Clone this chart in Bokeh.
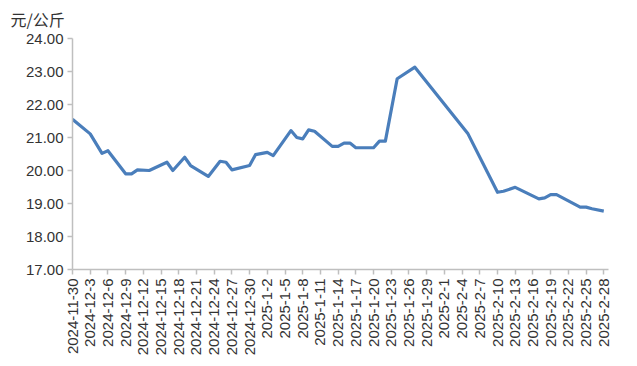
from datetime import date
from bokeh.plotting import figure
from bokeh.models import FixedTicker, ColumnDataSource
from bokeh.embed import file_html
from bokeh.resources import INLINE
import math

# data
dates = ["2024-11-30", "2024-12-3", "2024-12-5", "2024-12-6", "2024-12-9", "2024-12-10",
         "2024-12-11", "2024-12-13", "2024-12-16", "2024-12-17", "2024-12-19", "2024-12-20",
         "2024-12-23", "2024-12-25", "2024-12-26", "2024-12-27", "2024-12-30", "2024-12-31",
         "2025-1-2", "2025-1-3", "2025-1-6", "2025-1-7", "2025-1-8", "2025-1-9", "2025-1-10",
         "2025-1-13", "2025-1-14", "2025-1-15", "2025-1-16", "2025-1-17", "2025-1-20",
         "2025-1-21", "2025-1-22", "2025-1-24", "2025-1-27", "2025-2-5", "2025-2-10",
         "2025-2-11", "2025-2-13", "2025-2-17", "2025-2-18", "2025-2-19", "2025-2-20",
         "2025-2-24", "2025-2-25", "2025-2-26", "2025-2-28"]
prices = [21.55, 21.11, 20.52, 20.60, 19.90, 19.90,
          20.02, 20.00, 20.25, 20.00, 20.40, 20.15,
          19.82, 20.28, 20.25, 20.02, 20.15, 20.48,
          20.55, 20.45, 21.21, 21.00, 20.96, 21.23, 21.19,
          20.73, 20.73, 20.83, 20.83, 20.69, 20.69,
          20.89, 20.89, 22.78, 23.13, 21.11, 19.34,
          19.37, 19.49, 19.14, 19.17, 19.27, 19.27,
          18.89, 18.89, 18.84, 18.77]
tick_labels = ["2024-11-30", "2024-12-3", "2024-12-6", "2024-12-9", "2024-12-12", "2024-12-15",
               "2024-12-18", "2024-12-21", "2024-12-24", "2024-12-27", "2024-12-30",
               "2025-1-2", "2025-1-5", "2025-1-8", "2025-1-11", "2025-1-14", "2025-1-17",
               "2025-1-20", "2025-1-23", "2025-1-26", "2025-1-29", "2025-2-1", "2025-2-4",
               "2025-2-7", "2025-2-10", "2025-2-13", "2025-2-16", "2025-2-19", "2025-2-22",
               "2025-2-25", "2025-2-28"]
y_ticks = [17, 18, 19, 20, 21, 22, 23, 24]
unit_label = "元/公斤"

start = date(2024, 11, 30)
def day_index(s):
    y, m, d = map(int, s.split("-"))
    return (date(y, m, d) - start).days

xs = [day_index(s) for s in dates]
tick_pos = [day_index(s) for s in tick_labels]

font = "Liberation Sans"
text_color = "#333333"
axis_color = "#bfbfbf"

p = figure(width=621, height=358, output_backend="svg", toolbar_location=None,
           x_range=(0, 90.8), y_range=(17, 24),
           min_border_left=72, min_border_top=38, min_border_right=13, min_border_bottom=89)
p.outline_line_color = None
p.grid.visible = False
p.background_fill_color = "white"

p.title.text = unit_label
p.title.align = "left"
p.title.offset = -62
p.title.standoff = 11
p.title.vertical_align = "top"
p.title.text_font = "Noto Sans CJK SC"
p.title.text_font_size = "16px"
p.title.text_font_style = "normal"
p.title.text_color = text_color

src = ColumnDataSource(dict(x=xs, y=prices))
p.line("x", "y", source=src, line_color="#4a7ebb", line_width=3.2, line_join="round")

p.xaxis.ticker = FixedTicker(ticks=tick_pos)
p.xaxis.major_label_overrides = {t: l for t, l in zip(tick_pos, tick_labels)}
p.xaxis.major_label_orientation = math.pi / 2
p.yaxis.ticker = FixedTicker(ticks=y_ticks)
p.yaxis.major_label_overrides = {v: f"{v:.2f}" for v in y_ticks}

for ax in (p.xaxis, p.yaxis):
    ax.axis_line_color = axis_color
    ax.axis_line_width = 1.5
    ax.major_tick_line_color = axis_color
    ax.major_tick_line_width = 1.5
    ax.major_tick_out = 5
    ax.major_tick_in = 0
    ax.minor_tick_line_color = None
    ax.major_label_text_font = font
    ax.major_label_text_font_size = "15px"
    ax.major_label_text_color = text_color
    ax.major_label_standoff = 4

open("out.html", "w").write(file_html(p, INLINE))
